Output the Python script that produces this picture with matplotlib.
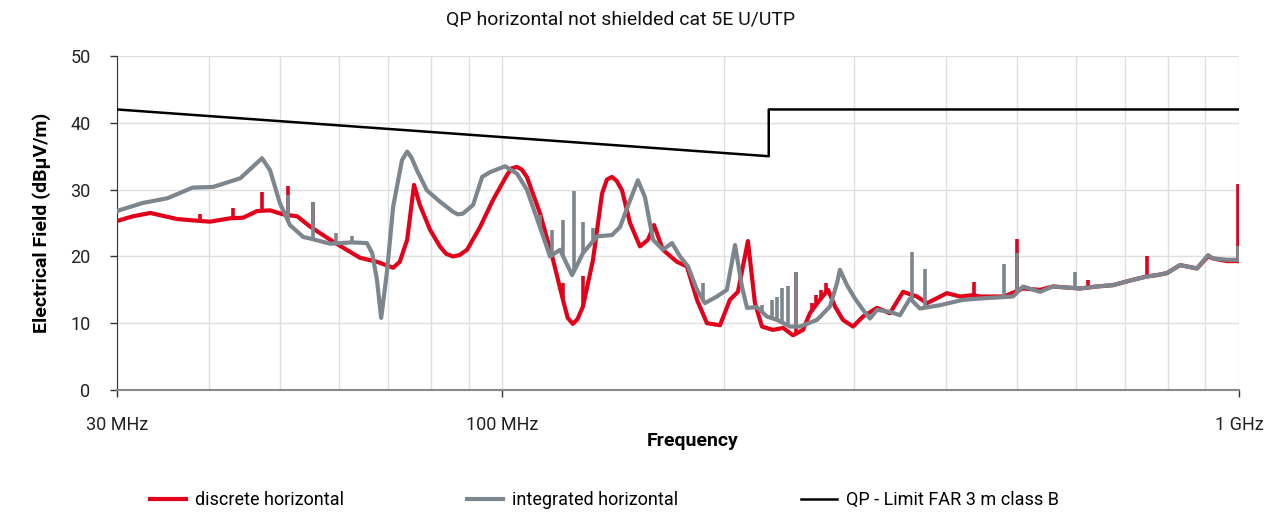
import numpy as np
import matplotlib
matplotlib.use("Agg")
import matplotlib.pyplot as plt
from matplotlib.ticker import FixedLocator, NullFormatter

plt.rcParams['font.family'] = ['Liberation Sans Narrow', 'Roboto', 'DejaVu Sans']

# discrete horizontal (red), MHz / dBuV/m
disc_f = [30.0, 31.5, 33.3, 36.2, 38.0, 40.1, 42.7, 44.5, 46.5, 48.4, 50.4, 52.7, 54.8,
          58.4, 60.2, 64.1, 67.6, 71.1, 72.6, 74.3, 75.9, 77.3, 79.8, 82.3, 83.9, 85.7,
          87.5, 89.6, 93.3, 97.1, 101.5, 103.0, 104.7, 106.3, 108.0, 112.5, 117.2, 120.9,
          122.7, 124.7, 126.5, 128.7, 132.8, 136.6, 138.7, 140.9, 143.0, 145.4, 149.1,
          153.8, 157.7, 160.7, 165.2, 172.6, 178.1, 183.8, 189.6, 197.5, 203.7, 208.9,
          215.5, 220.3, 225.2, 233.0, 240.5, 248.1, 256.0, 261.6, 269.9, 276.8, 282.9,
          290.0, 299.3, 308.8, 322.6, 335.9, 349.9, 365.5, 377.1, 401.4, 418.1, 435.5,
          445.1, 479.8, 509.1, 536.9, 559.2, 608.3, 641.5, 674.4, 717.8, 749.9, 773.6,
          798.2, 831.7, 876.9, 907.7, 921.9, 962.9, 996.5, 1000]
disc_db = [25.3, 26.0, 26.5, 25.6, 25.4, 25.2, 25.7, 25.8, 26.8, 26.9, 26.3, 26.0, 24.5,
           22.5, 21.6, 19.8, 19.2, 18.3, 19.2, 22.5, 30.7, 27.7, 24.0, 21.5, 20.4, 20.0,
           20.2, 21.0, 24.4, 28.4, 32.2, 33.2, 33.4, 33.0, 31.9, 26.5, 19.5, 13.5,
           10.8, 9.9, 10.6, 12.5, 19.5, 29.4, 31.5, 31.9, 31.3, 29.9, 25.0,
           21.5, 22.5, 24.7, 21.0, 19.2, 18.5, 13.5, 10.0, 9.7, 13.5, 14.7,
           22.3, 13.0, 9.5, 9.0, 9.3, 8.2, 9.0, 11.5, 13.5, 15.0, 12.5,
           10.5, 9.5, 11.0, 12.3, 11.5, 14.7, 14.0, 13.0, 14.5, 14.0, 14.2,
           14.0, 14.0, 15.2, 15.0, 15.5, 15.2, 15.5, 15.7, 16.5, 17.0, 17.2,
           17.5, 18.7, 18.2, 20.0, 19.7, 19.3, 19.3, 19.3]
disc_spike_f = [38.9, 43.1, 47.2, 51.2, 55.4, 120.9, 128.7, 250.4, 263.0, 267.0, 271.0,
                275.0, 436.8, 499.7, 623.8, 749.9, 996.5]
disc_spike_db = [26.3, 27.2, 29.7, 30.5, 28.2, 16.0, 17.0, 17.7, 13.0, 14.3, 15.0,
                 16.0, 16.2, 22.6, 16.5, 20.0, 30.8]

# integrated horizontal (grey)
integ_f = [30.0, 32.5, 35.1, 38.0, 40.5, 44.1, 47.2, 48.4, 49.9, 51.5, 53.7, 54.8, 58.4,
           62.5, 65.5, 66.6, 67.6, 68.5, 69.8, 71.1, 73.1, 74.3, 75.3, 76.6, 79.0, 82.3,
           85.7, 87.0, 88.4, 91.3, 93.9, 96.2, 100.9, 104.7, 108.0, 112.5, 116.1, 119.8,
           124.4, 128.7, 134.5, 140.9, 144.5, 149.1, 152.8, 156.2, 160.2, 165.2, 170.0,
           174.3, 178.7, 183.8, 188.4, 195.6, 201.8, 207.0, 211.5, 214.9, 221.7, 228.7,
           236.0, 245.8, 253.6, 267.4, 278.5, 284.7, 287.3, 293.7, 301.1, 308.8, 315.6,
           322.6, 335.9, 346.6, 357.6, 368.9, 392.8, 422.0, 445.1, 493.5, 509.1, 536.9,
           559.2, 608.3, 641.5, 674.4, 717.8, 749.9, 773.6, 798.2, 831.7, 876.9, 907.7,
           921.9, 962.9, 996.5, 1000]
integ_db = [26.8, 28.0, 28.7, 30.3, 30.4, 31.7, 34.7, 32.9, 28.0, 24.7, 22.9, 22.7, 21.9,
            22.1, 22.0, 20.5, 16.5, 10.8, 18.0, 27.4, 34.4, 35.7, 34.8, 32.9, 29.9, 28.2,
            26.7, 26.3, 26.4, 27.7, 31.9, 32.6, 33.5, 32.4, 30.0, 24.4, 20.0, 21.0,
            17.2, 20.5, 23.0, 23.2, 24.4, 28.4, 31.4, 28.9, 22.5, 21.0, 22.0,
            20.0, 18.5, 15.0, 13.0, 14.0, 15.0, 21.7, 15.5, 12.3, 12.4, 11.0,
            10.5, 9.5, 9.5, 10.5, 12.5, 16.0, 18.0, 15.7, 13.7, 12.0, 10.7,
            12.0, 11.7, 11.2, 13.7, 12.2, 12.7, 13.5, 13.7, 14.0, 15.5, 14.7,
            15.5, 15.2, 15.5, 15.7, 16.5, 17.0, 17.2, 17.5, 18.7, 18.2, 20.2,
            19.7, 19.5, 19.5, 19.5]
integ_spike_f = [51.2, 55.4, 59.5, 62.5, 112.5, 116.8, 120.9, 125.1, 128.7, 132.8, 187.3,
                 225.2, 232.0, 236.0, 239.7, 244.0, 250.4, 359.8, 374.8, 479.8, 499.7,
                 598.9, 996.5]
integ_spike_db = [29.2, 28.2, 23.5, 23.0, 26.2, 24.0, 25.4, 29.8, 25.2, 24.2, 16.0,
                  12.7, 13.5, 14.0, 15.2, 15.5, 17.7, 20.6, 18.1, 18.9, 20.5,
                  17.7, 21.5]

# QP limit FAR 3 m class B
limit_f = [30, 230, 230, 1000]
limit_db = [42, 35, 42, 42]

RED = '#e2001a'
GREY = '#7d868c'

fig = plt.figure(figsize=(12.76, 5.14), dpi=100)
ax = fig.add_axes([0.0917, 0.2412, 0.8793, 0.6498])


def spikes(f_base, db_base, f_sp, db_sp, color, z):
    base = np.interp(np.log10(f_sp), np.log10(f_base), db_base)
    ax.vlines(f_sp, base, db_sp, color=color, lw=2.6, zorder=z)


ax.plot(disc_f, disc_db, color=RED, lw=3.0, zorder=3, label='discrete horizontal',
        solid_joinstyle='round')
spikes(disc_f, disc_db, disc_spike_f, disc_spike_db, RED, 3)
ax.plot(integ_f, integ_db, color=GREY, lw=3.0, zorder=4, label='integrated horizontal',
        solid_joinstyle='round')
spikes(integ_f, integ_db, integ_spike_f, integ_spike_db, GREY, 4)
ax.plot(limit_f, limit_db, color='black', lw=1.8, zorder=5, label='QP - Limit FAR 3 m class B')

ax.set_xscale('log')
ax.set_xlim(30, 1000)
ax.set_ylim(0, 50)
ax.xaxis.set_major_locator(FixedLocator([30, 100, 1000]))
ax.set_xticklabels(['30 MHz', '100 MHz', '1 GHz'])
ax.xaxis.set_minor_locator(FixedLocator([40, 50, 60, 70, 80, 90, 200, 300, 400, 500,
                                         600, 700, 800, 900]))
ax.xaxis.set_minor_formatter(NullFormatter())
ax.set_yticks([0, 10, 20, 30, 40, 50])

ax.grid(True, which='both', color='#e0e0e0', lw=1.0, zorder=0)
ax.set_axisbelow(True)
ax.tick_params(axis='x', which='major', length=5, width=1, color='#333333', pad=14,
               labelsize=13, labelcolor='#222222')
ax.tick_params(axis='x', which='minor', length=0)
ax.tick_params(axis='y', length=5, width=1, color='#333333', pad=14,
               labelsize=13, labelcolor='#222222')

for s in ['top', 'right']:
    ax.spines[s].set_visible(False)
ax.spines['left'].set_color('#333333')
ax.spines['bottom'].set_color('#8a8a8a')
ax.spines['bottom'].set_linewidth(1.5)

ax.set_xlabel('Frequency', fontsize=14, fontweight='bold', labelpad=2)
ax.xaxis.set_label_coords(0.513, -0.125)
ax.set_ylabel('Electrical Field (dBµV/m)', fontsize=14, fontweight='bold', labelpad=14)

fig.text(0.486, 0.961, 'QP horizontal not shielded cat 5E U/UTP', ha='center', va='center',
         fontsize=14, color='#111111')

fig.legend(loc='center', bbox_to_anchor=(0.474, 0.027), ncol=3, frameon=False,
           fontsize=13, columnspacing=6.8, handlelength=2.0, handletextpad=0.5)

fig.savefig('out.png', dpi=100)
